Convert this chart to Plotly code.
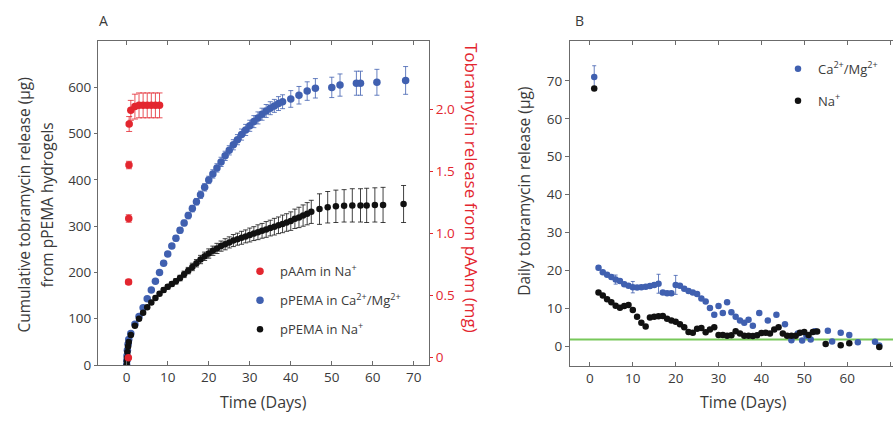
import plotly.graph_objects as go

# ---------------- Panel A data ----------------
# pAAm in Na+ (right axis, mg)
paam_days = [0.4, 0.45, 0.5, 0.55, 0.6, 1, 2, 3, 4, 5, 6, 7, 8]
paam_mg = [0.0, 0.61, 1.12, 1.55, 1.88, 1.99, 2.02, 2.03, 2.03, 2.03, 2.03, 2.03, 2.03]
paam_err = [0, 0.02, 0.03, 0.03, 0.06, 0.08, 0.1, 0.1, 0.1, 0.1, 0.1, 0.1, 0.1]

# pPEMA in Ca2+/Mg2+ cumulative (ug)
caA_days = [0, 0.04, 0.08, 0.17, 0.33, 0.5,
            1, 2, 3, 4, 5, 6, 7, 8, 9, 10,
            11, 12, 13, 14, 15, 16, 17, 18, 19, 20,
            21, 22, 23, 24, 25, 26, 27, 28, 29, 30,
            31, 32, 33, 34, 35, 36, 37, 38,
            40, 42, 44, 46, 50, 52, 56, 57, 61, 68]
caA_ug = [0, 10, 20, 32, 45, 55,
          68, 88, 105, 124, 143, 162, 181, 200, 220, 240,
          257, 274, 291, 307, 323, 338, 353, 368, 384, 400,
          413, 426, 439, 452, 464, 476, 487, 498, 508, 517,
          526, 534, 542, 549, 555, 560, 565, 569,
          575, 583, 592, 598, 600, 605, 609, 609, 611, 615]
caA_err = [0, 1, 1, 1, 1, 2,
           2, 2, 3, 3, 3, 4, 4, 4, 5, 5,
           5, 6, 6, 6, 7, 7, 7, 8, 8, 8,
           9, 9, 10, 10, 10, 11, 11, 12, 12, 12,
           13, 13, 13, 14, 14, 14, 15, 15,
           18, 19, 20, 21, 22, 24, 26, 26, 28, 30]

# pPEMA in Na+ cumulative (ug)
naA_days = [0, 0.04, 0.08, 0.17, 0.33, 0.5,
            1, 2, 3, 4, 5, 6, 7, 8, 9, 10,
            11, 12, 13, 14, 15, 16, 17, 18, 19, 20,
            21, 22, 23, 24, 25, 26, 27, 28, 29, 30,
            31, 32, 33, 34, 35, 36, 37, 38, 39, 40,
            41, 42, 43, 44, 45,
            47, 49, 51, 53, 55, 57, 58.5, 60.5, 62.5, 67.5]
naA_ug = [0, 8, 16, 28, 40, 50,
          65, 85, 100, 113, 125, 135, 145, 154, 162, 169,
          175, 181, 188, 196, 204, 212, 220, 228, 235, 241,
          247, 252, 257, 261, 265, 269, 272, 275, 278, 281,
          284, 287, 290, 293, 296, 299, 302, 305, 308, 311,
          316, 319, 323, 327, 331,
          337, 341, 343, 344, 345, 345, 345, 346, 346, 348]
naA_err = [0, 1, 1, 1, 1, 2,
           2, 2, 3, 3, 3, 4, 4, 4, 5, 5,
           5, 6, 6, 7, 7, 8, 8, 9, 9, 10,
           10, 11, 11, 12, 12, 13, 13, 14, 14, 15,
           15, 16, 16, 17, 17, 18, 18, 19, 19, 20,
           21, 22, 23, 24, 25,
           33, 34, 35, 35, 36, 36, 37, 37, 38, 40]

# ---------------- Panel B data ----------------
caB_days = [1, 2, 3, 4, 5, 6, 7, 8, 9, 10,
            11, 12, 13, 14, 15, 16, 17, 18, 19, 20,
            21, 22, 23, 24, 25, 26, 27, 28, 29, 30,
            31, 32, 33, 34, 35, 36, 37, 38,
            39.5, 41.5, 43.5, 45.5, 47, 48.5, 49.5, 50.5, 51.5, 52.5,
            55.5, 56.5, 58.5, 60.5, 62.5, 66.5, 67.5]
caB_ug = [71, 20.7, 19.5, 18.9, 18.3, 17.6, 17.2, 16.4, 16.0, 15.6,
          15.5, 15.6, 15.7, 15.9, 16.2, 16.5, 14.2, 14.0, 14.0, 16.2,
          16.0, 15.2, 14.6, 14.2, 13.8, 12.6, 11.8, 10.1, 8.3, 10.6,
          8.8, 11.6, 9.0, 7.8, 6.8, 6.2, 7.0, 5.4,
          8.8, 6.8, 8.3, 5.8, 1.6, 3.4, 1.5, 2.8, 1.8, 4.0,
          4.1, 1.3, 3.6, 3.0, 1.1, 1.2, 0.2]
caB_err = [3.0, 0.5, 0.5, 0.5, 0.5, 1.2, 0.5, 0.5, 0.5, 1.5,
           0.5, 0.5, 0.5, 0.5, 0.5, 2.5, 0.5, 0.5, 0.5, 2.5,
           0.5, 0.5, 0.5, 0.5, 0.5, 0.5, 0.5, 0.5, 0.5, 0.5,
           0.5, 0.5, 0.5, 0.5, 0.5, 0.5, 0.5, 0.5,
           0.5, 0.5, 0.5, 0.5, 0.5, 0.5, 0.5, 0.5, 0.5, 0.5,
           0.5, 0.5, 0.5, 0.5, 0.5, 0.5, 0.5]

naB_days = [1, 2, 3, 4, 5, 6, 7, 8, 9, 10,
            11, 12, 13, 14, 15, 16, 17, 18, 19, 20,
            21, 22, 23, 24, 25, 26, 27, 28, 29, 30,
            31, 32, 33, 34, 35, 36, 37, 38, 39, 40,
            41, 42, 43, 44, 45, 46, 47, 48, 49, 50,
            51, 52, 53, 55, 58.5, 60.5, 67.5]
naB_ug = [68, 14.2, 13.4, 12.4, 11.6, 10.7, 10.2, 10.6, 10.9, 9.6,
          7.8, 6.2, 5.2, 7.6, 7.8, 7.9, 8.0, 7.3, 6.8, 6.5,
          5.8, 5.0, 3.8, 3.6, 4.6, 4.8, 3.7, 4.4, 5.0, 3.0,
          3.0, 2.8, 2.9, 4.0, 3.4, 2.8, 2.8, 2.7, 2.9, 3.5,
          3.6, 3.4, 4.4, 5.0, 3.4, 2.8, 2.8, 2.8, 3.6, 3.8,
          3.0, 3.8, 3.9, 0.6, 0.3, 0.8, -0.2]
detection_limit = 1.8

# tick labels
a_left_ticks = [0, 100, 200, 300, 400, 500, 600]
a_right_ticks = [0, 0.5, 1.0, 1.5, 2.0]
a_right_labels = ["0", "0.5", "1.0", "1.5", "2.0"]
x_ticks = [0, 10, 20, 30, 40, 50, 60, 70]
b_left_ticks = [0, 10, 20, 30, 40, 50, 60, 70]

# ---------------- Style ----------------
RED = "#e3262f"
BLUE = "#4060b0"
BLACK = "#111111"
GREEN = "#78c85a"
AX = "#6b6b6b"
TXT = "#3a3a3a"
FONT = "Open Sans"

W, H = 893, 422
def px(x):
    return x / W
def py(y):
    return 1 - y / H

fig = go.Figure()

fig.add_trace(go.Scatter(
    x=paam_days, y=paam_mg, yaxis="y2", xaxis="x", mode="markers",
    name="pAAm in Na<sup>+</sup>", legend="legend", legendgroup="a1",
    marker=dict(color=RED, size=7.5),
    error_y=dict(type="data", array=paam_err, color=RED, thickness=0.8, width=3)))
fig.add_trace(go.Scatter(
    x=caA_days, y=caA_ug, xaxis="x", yaxis="y", mode="markers",
    name="pPEMA in Ca<sup>2+</sup>/Mg<sup>2+</sup>", legend="legend", legendgroup="a2",
    marker=dict(color=BLUE, size=7.5),
    error_y=dict(type="data", array=caA_err, color=BLUE, thickness=0.8, width=2.5)))
fig.add_trace(go.Scatter(
    x=naA_days, y=naA_ug, xaxis="x", yaxis="y", mode="markers",
    name="pPEMA in Na<sup>+</sup>", legend="legend", legendgroup="a3",
    marker=dict(color=BLACK, size=6.5),
    error_y=dict(type="data", array=naA_err, color=BLACK, thickness=0.8, width=2.5)))

fig.add_trace(go.Scatter(
    x=caB_days, y=caB_ug, xaxis="x2", yaxis="y3", mode="markers",
    name="Ca<sup>2+</sup>/Mg<sup>2+</sup>", legend="legend2", legendgroup="b1",
    marker=dict(color=BLUE, size=6.5),
    error_y=dict(type="data", array=caB_err, color=BLUE, thickness=0.8, width=2)))
fig.add_trace(go.Scatter(
    x=naB_days, y=naB_ug, xaxis="x2", yaxis="y3", mode="markers",
    name="Na<sup>+</sup>", legend="legend2", legendgroup="b2",
    marker=dict(color=BLACK, size=6.5)))

fig.add_shape(type="line", xref="x2 domain", x0=0, x1=1, yref="y3",
              y0=detection_limit, y1=detection_limit,
              line=dict(color=GREEN, width=2), layer="below")

tickfont = dict(family=FONT, size=13.5, color=TXT)
common_x = dict(showline=True, linecolor=AX, linewidth=1, ticks="inside", ticklen=4,
                tickcolor=AX, mirror="ticks", showgrid=False, zeroline=False,
                tickfont=tickfont, tickvals=x_ticks)
fig.update_layout(
    width=W, height=H, margin=dict(l=0, r=0, t=0, b=0),
    paper_bgcolor="white", plot_bgcolor="white",
    font=dict(family=FONT, color=TXT),
    xaxis=dict(domain=[px(98), px(429)], range=[-7.0, 73.7], anchor="y", **common_x),
    yaxis=dict(domain=[py(373), py(42)], range=[0, 700], anchor="x",
               showline=True, linecolor=AX, ticks="outside", ticklen=3, tickcolor=AX,
               showgrid=False, zeroline=False, tickfont=tickfont, tickvals=a_left_ticks),
    yaxis2=dict(overlaying="y", side="right", anchor="x", range=[-0.059, 2.547],
                showline=True, linecolor=AX, ticks="outside", ticklen=3, tickcolor=RED,
                showgrid=False, zeroline=False,
                tickvals=a_right_ticks, ticktext=a_right_labels,
                tickfont=dict(family=FONT, size=13.5, color=RED)),
    xaxis2=dict(domain=[px(570), 1.0], range=[-4.65, 70.7], anchor="y3", **common_x),
    yaxis3=dict(domain=[py(374), py(42)], range=[-5.2, 80.5], anchor="x2",
                showline=True, linecolor=AX, ticks="outside", ticklen=4, tickcolor=AX,
                showgrid=False, zeroline=False, tickfont=tickfont, tickvals=b_left_ticks),
    legend=dict(x=px(240), y=py(262), xanchor="left", yanchor="top",
                font=dict(family=FONT, size=13, color=TXT), bgcolor="rgba(0,0,0,0)",
                tracegroupgap=9, itemwidth=30),
    legend2=dict(x=px(778), y=py(55), xanchor="left", yanchor="top",
                 font=dict(family=FONT, size=13, color=TXT), bgcolor="rgba(0,0,0,0)",
                 tracegroupgap=12, itemwidth=30),
)

ann = []
def text(x, y, s, size=15, color=TXT, angle=0, xanchor="center"):
    ann.append(dict(x=px(x), y=py(y), xref="paper", yref="paper", text=s, showarrow=False,
                    textangle=angle, xanchor=xanchor, yanchor="middle",
                    font=dict(family=FONT, size=size, color=color)))

text(97, 21, "A", size=14, xanchor="left")
text(573, 21, "B", size=14, xanchor="left")
text(263, 411, "Time (Days)", size=16)
text(743, 411, "Time (Days)", size=16)
text(24, 210, "Cumulative tobramycin release (μg)", size=15.5, angle=-90)
text(47, 210, "from pPEMA hydrogels", size=15.5, angle=-90)
text(471, 192, "Tobramycin release from pAAm (mg)", size=17, color=RED, angle=90)
text(524, 196, "Daily tobramycin release (μg)", size=15.5, angle=-90)
fig.update_layout(annotations=ann)

fig.write_html("out.html")
